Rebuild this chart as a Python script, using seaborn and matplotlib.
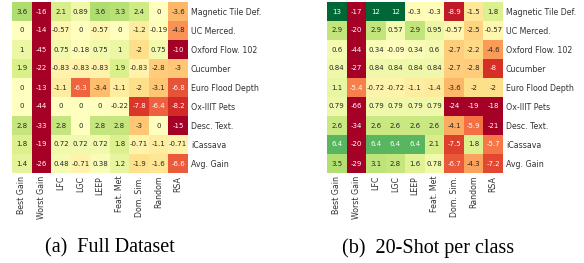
import numpy as np
import pandas as pd
import matplotlib
matplotlib.use("Agg")
import matplotlib.pyplot as plt
import seaborn as sns

methods = ["Best Gain", "Worst Gain", "LFC", "LGC", "LEEP", "Feat. Met",
           "Dom. Sim.", "Random", "RSA"]
datasets = ["Magnetic Tile Def.", "UC Merced.", "Oxford Flow. 102", "Cucumber",
            "Euro Flood Depth", "Ox-IIIT Pets", "Desc. Text.", "iCassava", "Avg. Gain"]

full_vals = [
    [3.6, -16, 2.1, 0.89, 3.6, 3.3, 2.4, 0, -3.6],
    [0, -14, -0.57, 0, -0.57, 0, -1.2, -0.19, -4.8],
    [1, -45, 0.75, -0.18, 0.75, 1, -2, 0.75, -10],
    [1.9, -22, -0.83, -0.83, -0.83, 1.9, -0.83, -2.8, -3],
    [0, -13, -1.1, -6.3, -3.4, -1.1, -2, -3.1, -6.8],
    [0, -44, 0, 0, 0, -0.22, -7.8, -6.4, -8.2],
    [2.8, -33, 2.8, 0, 2.8, 2.8, -3, 0, -15],
    [1.8, -19, 0.72, 0.72, 0.72, 1.8, -0.71, -1.1, -0.71],
    [1.4, -26, 0.48, -0.71, 0.38, 1.2, -1.9, -1.6, -6.6],
]
shot_vals = [
    [13, -17, 12, 12, -0.3, -0.3, -8.9, -1.5, 1.8],
    [2.9, -20, 2.9, 0.57, 2.9, 0.95, -0.57, -2.5, -0.57],
    [0.6, -44, 0.34, -0.09, 0.34, 0.6, -2.7, -2.2, -4.6],
    [0.84, -27, 0.84, 0.84, 0.84, 0.84, -2.7, -2.8, -8],
    [1.1, -5.4, -0.72, -0.72, -1.1, -1.4, -3.6, -2, -2],
    [0.79, -66, 0.79, 0.79, 0.79, 0.79, -24, -19, -18],
    [2.6, -34, 2.6, 2.6, 2.6, 2.6, -4.1, -5.9, -21],
    [6.4, -20, 6.4, 6.4, 6.4, 2.1, -7.5, 1.8, -5.7],
    [3.5, -29, 3.1, 2.8, 1.6, 0.78, -6.7, -4.3, -7.2],
]

W, H = 584, 263
fig = plt.figure(figsize=(W / 100, H / 100), dpi=100)

panels = [
    (full_vals, 12, "(a)  Full Dataset", 110),
    (shot_vals, 327, "(b)  20-Shot per class", 428),
]

for vals, x0, caption, cx in panels:
    ax = fig.add_axes([x0 / W, (H - 173) / H, 176 / W, 171 / H])
    df = pd.DataFrame(vals, index=datasets, columns=methods)
    sns.heatmap(df, ax=ax, cmap="RdYlGn", vmin=-10, vmax=10, center=0,
                annot=True, fmt=".2g", cbar=False,
                annot_kws={"fontsize": 5})
    ax.yaxis.tick_right()
    ax.tick_params(axis="both", length=0, labelsize=5.7, pad=2)
    ax.set_yticklabels(datasets, rotation=0, color="#333333")
    ax.set_xticklabels(methods, rotation=90, color="#333333")
    fig.text(cx / W, 1 - 248 / H, caption, ha="center", va="center",
             family="Liberation Serif", fontsize=14.5)

fig.savefig("out.png", dpi=100)
